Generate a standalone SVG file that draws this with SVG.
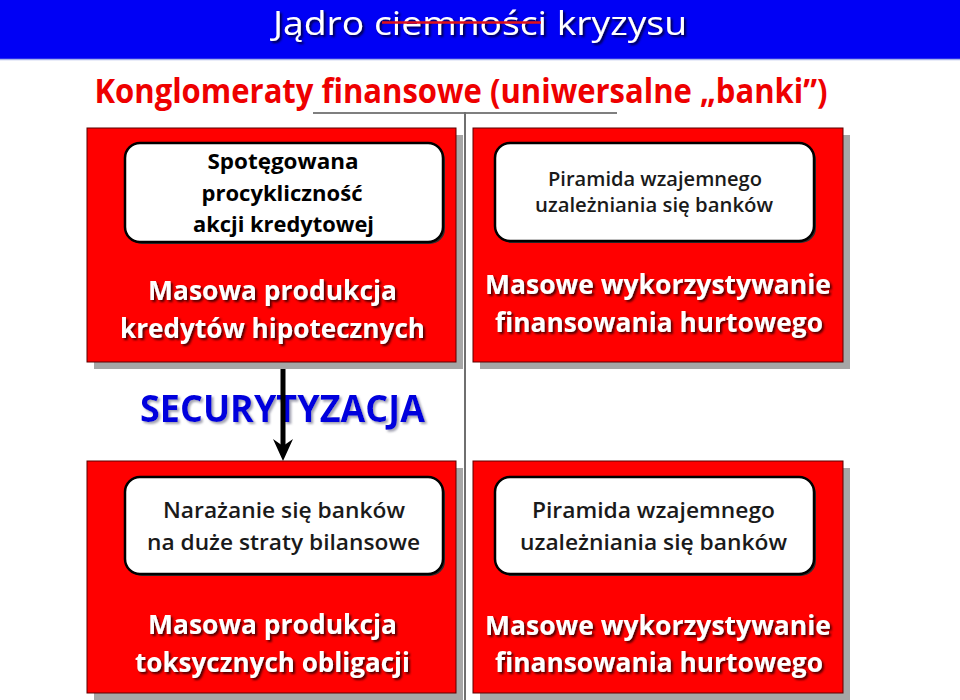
<svg xmlns="http://www.w3.org/2000/svg" width="960" height="700" viewBox="0 0 960 700">
<defs>
<style>
.redbox{fill:#ff0000;stroke:#5a0000;stroke-width:1}
.shadow{fill:#a6a6a6}
.inner{fill:#ffffff;stroke:#000000;stroke-width:2.5}
.innerSh{fill:#303030}
.t{font-family:"Open Sans","Noto Sans","Liberation Sans",sans-serif;text-anchor:middle}
.blk{fill:#000000;font-weight:700}
.blk2{fill:#1a1a1a;font-weight:600}
.wht{fill:#ffffff;font-weight:700;filter:url(#ds)}
.conn{stroke:#7f7f7f;stroke-width:2;fill:none}
</style>
<filter id="ds" x="-10%" y="-30%" width="120%" height="160%">
<feDropShadow dx="2" dy="2" stdDeviation="0.8" flood-color="#3a0000" flood-opacity="0.9"/>
</filter>
<filter id="dsT" x="-10%" y="-30%" width="120%" height="160%">
<feDropShadow dx="2" dy="2" stdDeviation="1" flood-color="#000030" flood-opacity="0.9"/>
</filter>
<filter id="dsB" x="-10%" y="-30%" width="120%" height="160%">
<feDropShadow dx="2" dy="2" stdDeviation="1.2" flood-color="#9a9aaa" flood-opacity="0.9"/>
</filter>
</defs>

<rect width="960" height="700" fill="#ffffff"/>

<g id="header">
<rect x="0" y="0" width="960" height="59" fill="#0000f5"/>
<line x1="0" y1="59.5" x2="960" y2="59.5" stroke="#a8b4e8" stroke-width="1.5"/>
<text class="t" x="480" y="35" font-size="32" fill="#ffffff" filter="url(#dsT)" textLength="414" lengthAdjust="spacingAndGlyphs">Jądro ciemności kryzysu</text>
<line x1="382" y1="22.5" x2="541" y2="22.5" stroke="#e0101a" stroke-width="2.5"/>
</g>

<g id="subtitle">
<text class="t" x="461" y="103" font-size="34" fill="#ee0000" font-weight="700" textLength="733" lengthAdjust="spacingAndGlyphs">Konglomeraty finansowe (uniwersalne „banki”)</text>
</g>

<g id="connectors">
<line class="conn" x1="313" y1="113" x2="617" y2="113"/>
<line x1="465" y1="112" x2="465" y2="700" stroke="#6f6f6f" stroke-width="2"/>
</g>

<g id="node-top-left">
<rect class="shadow" x="94" y="135" width="369" height="234"/>
<rect class="redbox" x="87" y="128" width="369" height="234"/>
<rect class="innerSh" x="127" y="145" width="318" height="99" rx="15"/>
<rect class="inner" x="125" y="143" width="318" height="99" rx="15"/>
<text class="t blk" x="283" y="169" font-size="22" textLength="151" lengthAdjust="spacingAndGlyphs">Spotęgowana</text>
<text class="t blk" x="282" y="201" font-size="22" textLength="161" lengthAdjust="spacingAndGlyphs">procykliczność</text>
<text class="t blk" x="283.5" y="232" font-size="22" textLength="181" lengthAdjust="spacingAndGlyphs">akcji kredytowej</text>
<text class="t wht" x="272.5" y="300" font-size="26" textLength="249" lengthAdjust="spacingAndGlyphs">Masowa produkcja</text>
<text class="t wht" x="272.5" y="338" font-size="26" textLength="305" lengthAdjust="spacingAndGlyphs">kredytów hipotecznych</text>
</g>

<g id="node-top-right">
<rect class="shadow" x="480" y="135" width="370" height="234"/>
<rect class="redbox" x="473" y="128" width="370" height="234"/>
<rect class="innerSh" x="497" y="145" width="319" height="98" rx="15"/>
<rect class="inner" x="495" y="143" width="319" height="98" rx="15"/>
<text class="t blk2" x="655" y="186" font-size="19" textLength="214" lengthAdjust="spacingAndGlyphs">Piramida wzajemnego</text>
<text class="t blk2" x="654" y="212" font-size="19" textLength="238" lengthAdjust="spacingAndGlyphs">uzależniania się banków</text>
<text class="t wht" x="658" y="294" font-size="26" textLength="346" lengthAdjust="spacingAndGlyphs">Masowe wykorzystywanie</text>
<text class="t wht" x="659" y="332" font-size="26" textLength="328" lengthAdjust="spacingAndGlyphs">finansowania hurtowego</text>
</g>

<g id="label-securytyzacja">
<text class="t" x="282.5" y="422" font-size="38" font-weight="700" fill="#0000dd" filter="url(#dsB)" textLength="285" lengthAdjust="spacingAndGlyphs">SECURYTYZACJA</text>
</g>

<g id="connector-arrow">
<line x1="283" y1="369" x2="283" y2="446" stroke="#000000" stroke-width="5"/>
<path d="M273,439 L283,461 L293,439 L283,446 Z" fill="#000000"/>
</g>

<g id="node-bottom-left">
<rect class="shadow" x="94" y="468" width="369" height="232"/>
<rect class="redbox" x="87" y="461" width="369" height="232"/>
<rect class="innerSh" x="127" y="479" width="318" height="97" rx="15"/>
<rect class="inner" x="125" y="477" width="318" height="97" rx="15"/>
<text class="t blk2" x="284" y="518" font-size="22" textLength="242" lengthAdjust="spacingAndGlyphs">Narażanie się banków</text>
<text class="t blk2" x="283.5" y="550" font-size="22" textLength="273" lengthAdjust="spacingAndGlyphs">na duże straty bilansowe</text>
<text class="t wht" x="272.5" y="634" font-size="26" textLength="249" lengthAdjust="spacingAndGlyphs">Masowa produkcja</text>
<text class="t wht" x="272.5" y="672" font-size="26" textLength="275" lengthAdjust="spacingAndGlyphs">toksycznych obligacji</text>
</g>

<g id="node-bottom-right">
<rect class="shadow" x="480" y="468" width="370" height="232"/>
<rect class="redbox" x="473" y="461" width="370" height="232"/>
<rect class="innerSh" x="497" y="479" width="319" height="97" rx="15"/>
<rect class="inner" x="495" y="477" width="319" height="97" rx="15"/>
<text class="t blk2" x="653.5" y="518" font-size="22" textLength="243" lengthAdjust="spacingAndGlyphs">Piramida wzajemnego</text>
<text class="t blk2" x="653.5" y="550" font-size="22" textLength="267" lengthAdjust="spacingAndGlyphs">uzależniania się banków</text>
<text class="t wht" x="658" y="635" font-size="26" textLength="346" lengthAdjust="spacingAndGlyphs">Masowe wykorzystywanie</text>
<text class="t wht" x="659" y="672" font-size="26" textLength="328" lengthAdjust="spacingAndGlyphs">finansowania hurtowego</text>
</g>
</svg>
